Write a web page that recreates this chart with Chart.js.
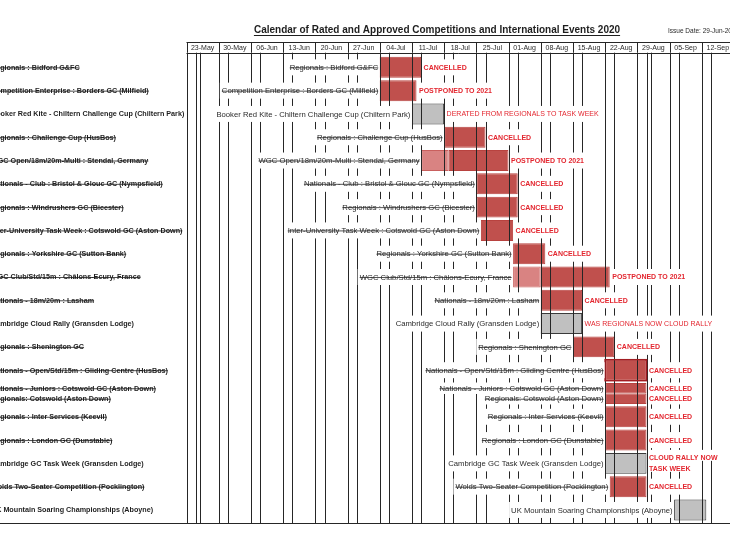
<!DOCTYPE html>
<html>
<head>
<meta charset="utf-8">
<script src="https://cdn.jsdelivr.net/npm/chart.js@4.4.1/dist/chart.umd.min.js"></script>
<style>
  html, body { margin: 0; padding: 0; background: #fff; }
  #wrap { width: 730px; height: 552px; overflow: hidden; }
</style>
</head>
<body>
<div id="wrap"><canvas id="calendar" width="730" height="552"></canvas></div>
<script>
// week headings (each column is one week, starting on a Saturday)
const weeks = ['23-May', '30-May', '06-Jun', '13-Jun', '20-Jun', '27-Jun', '04-Jul', '11-Jul', '18-Jul',
  '25-Jul', '01-Aug', '08-Aug', '15-Aug', '22-Aug', '29-Aug', '05-Sep', '12-Sep'];

// day numbers count from Sat 23-May = 0
const bankHolidays = [2, 100];

const events = [
  'Regionals : Bidford G&FC',
  'Competition Enterprise : Borders GC (Milfield)',
  'Booker Red Kite - Chiltern Challenge Cup (Chiltern Park)',
  'Regionals : Challenge Cup (HusBos)',
  'WGC Open/18m/20m-Multi : Stendal, Germany',
  'Nationals - Club : Bristol & Glouc GC (Nympsfield)',
  'Regionals : Windrushers GC (Bicester)',
  'Inter-University Task Week : Cotswold GC (Aston Down)',
  'Regionals : Yorkshire GC (Sutton Bank)',
  'WGC Club/Std/15m : Châlons-Ecury, France',
  'Nationals - 18m/20m : Lasham',
  'Cambridge Cloud Rally (Gransden Lodge)',
  'Regionals : Shenington GC',
  'Nationals - Open/Std/15m : Gliding Centre (HusBos)',
  'Nationals - Juniors : Cotswold GC (Aston Down)',
  'Regionals : Inter Services (Keevil)',
  'Regionals : London GC (Dunstable)',
  'Cambridge GC Task Week (Gransden Lodge)',
  'Wolds Two-Seater Competition (Pocklington)',
  'UK Mountain Soaring Championships (Aboyne)'
];
const startDay = [42, 42, 49, 56, 57, 63, 63, 64, 71, 77, 77, 77, 84, 91, 91, 91, 91, 91, 92, 106];
const endDay   = [51, 50, 56, 65, 70, 72, 72, 71, 78, 92, 86, 86, 93, 100, 100, 100, 100, 100, 100, 113];

// practice periods before the international events
const practiceStart = [null, null, null, null, 51, null, null, null, null, 71, null, null, null, null, null, null, null, null, null, null];
const practiceEnd   = [null, null, null, null, 57, null, null, null, null, 77, null, null, null, null, null, null, null, null, null, null];

// second event sharing a row
const sharedEvents = [null, null, null, null, null, null, null, null, null, null, null, null, null, null,
  'Regionals: Cotswold (Aston Down)', null, null, null, null, null];
const sharedStart = [null, null, null, null, null, null, null, null, null, null, null, null, null, null, 91, null, null, null, null, null];
const sharedEnd   = [null, null, null, null, null, null, null, null, null, null, null, null, null, null, 100, null, null, null, null, null];
const sharedStatus = [null, null, null, null, null, null, null, null, null, null, null, null, null, null, 'CANCELLED', null, null, null, null, null];

// still going ahead (grey) vs cancelled / postponed (red, struck through)
const goingAhead = [false, false, true, false, false, false, false, false, false, false,
  false, true, false, false, false, false, false, true, false, true];

const status = [
  'CANCELLED', 'POSTPONED TO 2021', 'DERATED FROM REGIONALS TO TASK WEEK', 'CANCELLED', 'POSTPONED TO 2021',
  'CANCELLED', 'CANCELLED', 'CANCELLED', 'CANCELLED', 'POSTPONED TO 2021',
  'CANCELLED', 'WAS REGIONALS NOW CLOUD RALLY', 'CANCELLED', 'CANCELLED', 'CANCELLED',
  'CANCELLED', 'CANCELLED', 'CLOUD RALLY NOW\nTASK WEEK', 'CANCELLED', ''
];

// --- styling ---
const FONT = '"Liberation Sans", Arial, sans-serif';
const INK = '#2a2a2a';
const NOTE_RED = '#e3262f';
const BAR_RED = '#c0504d';
const BAR_PINK = '#d98382';
const BAR_GREY = '#c0c0c0';
const GRID = '#262626';
const plainNotes = new Set([2, 11]);
const outlinedRows = new Set([13]);

const toRange = (s, e) => s.map((v, i) => v === null ? null : [v, e[i]]);

function vline(ctx, x, y0, y1) {
  const px = Math.round(x) + 0.5;
  ctx.beginPath();
  ctx.moveTo(px, y0);
  ctx.lineTo(px, y1);
  ctx.stroke();
}

function hline(ctx, x0, x1, y) {
  const py = Math.round(y) + 0.5;
  ctx.beginPath();
  ctx.moveTo(x0, py);
  ctx.lineTo(x1, py);
  ctx.stroke();
}

// label ending just left of a bar, on a white patch that hides the day lines
function eventLabel(ctx, text, right, y, h, strike) {
  ctx.font = '7.7px ' + FONT;
  const w = ctx.measureText(text).width;
  ctx.fillStyle = '#fff';
  ctx.fillRect(right - w - 2, y - h / 2, w + 3, h);
  ctx.fillStyle = INK;
  ctx.textAlign = 'right';
  ctx.textBaseline = 'middle';
  ctx.fillText(text, right, y + 0.5);
  if (strike) {
    ctx.strokeStyle = INK;
    ctx.lineWidth = 0.8;
    ctx.beginPath();
    ctx.moveTo(right - w, y + 0.5);
    ctx.lineTo(right, y + 0.5);
    ctx.stroke();
  }
}

function noteLabel(ctx, text, left, y, h, bold) {
  const lines = text.split('\n');
  ctx.font = (bold ? 'bold ' : '') + '7px ' + FONT;
  ctx.textAlign = 'left';
  ctx.textBaseline = 'middle';
  const step = 11;
  lines.forEach((ln, k) => {
    const ly = y + (k - (lines.length - 1) / 2) * step;
    const w = ctx.measureText(ln).width;
    ctx.fillStyle = '#fff';
    ctx.fillRect(left - 1, ly - h / 2, w + 3, lines.length > 1 ? step : h);
    ctx.fillStyle = NOTE_RED;
    ctx.fillText(ln, left, ly + 0.5);
  });
}

const decor = {
  id: 'calendarDecor',
  afterDatasetsDraw(chart) {
    const { ctx, chartArea } = chart;
    const xs = chart.scales.x;
    const top = chartArea.top - 3;
    const bottom = chartArea.bottom + 1.5;

    // day lines: every Saturday, every Monday and the day after a bank holiday
    ctx.save();
    ctx.strokeStyle = GRID;
    ctx.lineWidth = 1;
    for (let k = 0; k < weeks.length; k++) {
      const days = [7 * k, 7 * k + 2];
      bankHolidays.forEach(b => { if (b >= 7 * k && b < 7 * k + 7) days.push(b + 1); });
      days.forEach(d => { if (d <= xs.max) vline(ctx, xs.getPixelForValue(d), top, bottom); });
    }

    const main = chart.getDatasetMeta(0).data;
    const shared = chart.getDatasetMeta(2).data;

    // dark outline round the highlighted bar
    outlinedRows.forEach(i => {
      const el = main[i];
      ctx.strokeStyle = '#a11d22';
      ctx.lineWidth = 1.5;
      ctx.strokeRect(el.base, el.y - el.height / 2, el.x - el.base, el.height);
    });

    events.forEach((name, i) => {
      const el = main[i];
      const first = practiceStart[i] !== null ? practiceStart[i] : startDay[i];
      const h = Math.min(16, el.height + 1);
      eventLabel(ctx, name, xs.getPixelForValue(first) - 1.5, el.y, h, !goingAhead[i]);
      if (status[i]) {
        noteLabel(ctx, status[i], xs.getPixelForValue(endDay[i]) + 2.5, el.y, h, !plainNotes.has(i));
      }
      if (sharedEvents[i]) {
        const se = shared[i];
        const sh = Math.min(16, se.height + 1);
        eventLabel(ctx, sharedEvents[i], xs.getPixelForValue(sharedStart[i]) - 1.5, se.y, sh, true);
        noteLabel(ctx, sharedStatus[i], xs.getPixelForValue(sharedEnd[i]) + 2.5, se.y, sh, true);
      }
    });
    ctx.restore();
  },
  afterDraw(chart) {
    const { ctx, chartArea } = chart;
    const xs = chart.scales.x;
    const hb = chartArea.top - 3;
    const ht = hb - 10.5;
    ctx.save();

    // title
    const title = 'Calendar of Rated and Approved Competitions and International Events 2020';
    ctx.font = 'bold 10px ' + FONT;
    ctx.fillStyle = '#1e1e1e';
    ctx.textAlign = 'center';
    ctx.textBaseline = 'alphabetic';
    const tx = 437, ty = 33;
    ctx.fillText(title, tx, ty);
    const tw = ctx.measureText(title).width;
    ctx.strokeStyle = '#1e1e1e';
    ctx.lineWidth = 1;
    hline(ctx, tx - tw / 2, tx + tw / 2, ty + 1.5);

    ctx.font = '6.5px ' + FONT;
    ctx.textAlign = 'left';
    ctx.fillStyle = INK;
    ctx.fillText('Issue Date: 29-Jun-20', 668, 33);

    // week header row
    ctx.strokeStyle = GRID;
    hline(ctx, chartArea.left, chartArea.right, ht);
    hline(ctx, chartArea.left, chartArea.right, hb);
    ctx.font = '7px ' + FONT;
    ctx.textAlign = 'center';
    ctx.textBaseline = 'middle';
    ctx.fillStyle = INK;
    weeks.forEach((w, k) => {
      vline(ctx, xs.getPixelForValue(7 * k), ht, hb);
      ctx.fillText(w, xs.getPixelForValue(7 * k + 3.5), (ht + hb) / 2 + 0.5);
    });

    // bottom rule
    hline(ctx, 0, chart.width, chartArea.bottom + 1.5);

    // left-hand list of events (bold, clipped at the page edge)
    ctx.font = 'bold 7.2px ' + FONT;
    ctx.textAlign = 'left';
    ctx.fillStyle = '#1e1e1e';
    ctx.strokeStyle = '#1e1e1e';
    ctx.lineWidth = 0.8;
    const main = chart.getDatasetMeta(0).data;
    const shared = chart.getDatasetMeta(2).data;
    const listX = -9;
    const listItem = (text, y, strike) => {
      ctx.fillText(text, listX, y + 0.5);
      if (strike) {
        const w = ctx.measureText(text).width;
        ctx.beginPath();
        ctx.moveTo(listX, y + 0.5);
        ctx.lineTo(listX + w, y + 0.5);
        ctx.stroke();
      }
    };
    events.forEach((name, i) => {
      listItem(name, main[i].y, !goingAhead[i]);
      if (sharedEvents[i]) listItem(sharedEvents[i], shared[i].y, true);
    });
    ctx.restore();
  }
};

const ctx = document.getElementById('calendar').getContext('2d');
new Chart(ctx, {
  type: 'bar',
  data: {
    labels: events,
    datasets: [{
      label: 'Event',
      data: toRange(startDay, endDay),
      stack: 'row',
      backgroundColor: c => goingAhead[c.dataIndex] ? BAR_GREY : BAR_RED,
      borderColor: c => goingAhead[c.dataIndex] ? '#3a3a3a' : '#b8423f',
      borderWidth: 1,
      borderSkipped: false,
      skipNull: true
    }, {
      label: 'Practice',
      data: toRange(practiceStart, practiceEnd),
      stack: 'row',
      backgroundColor: BAR_PINK,
      borderColor: '#c9605e',
      borderWidth: 1,
      borderSkipped: false,
      skipNull: true
    }, {
      label: 'Shared',
      data: toRange(sharedStart, sharedEnd),
      stack: 'shared',
      backgroundColor: BAR_RED,
      borderColor: '#b8423f',
      borderWidth: 1,
      borderSkipped: false,
      skipNull: true
    }]
  },
  options: {
    indexAxis: 'y',
    responsive: false,
    animation: false,
    events: [],
    categoryPercentage: 0.9,
    barPercentage: 1,
    layout: { padding: { left: 186.5, right: 0, top: 55.7, bottom: 30.4 } },
    scales: {
      x: { type: 'linear', min: 0, max: 118.15, stacked: false, display: false },
      y: { type: 'category', display: false }
    },
    plugins: {
      legend: { display: false },
      tooltip: { enabled: false },
      title: { display: false }
    }
  },
  plugins: [decor]
});
</script>
</body>
</html>
